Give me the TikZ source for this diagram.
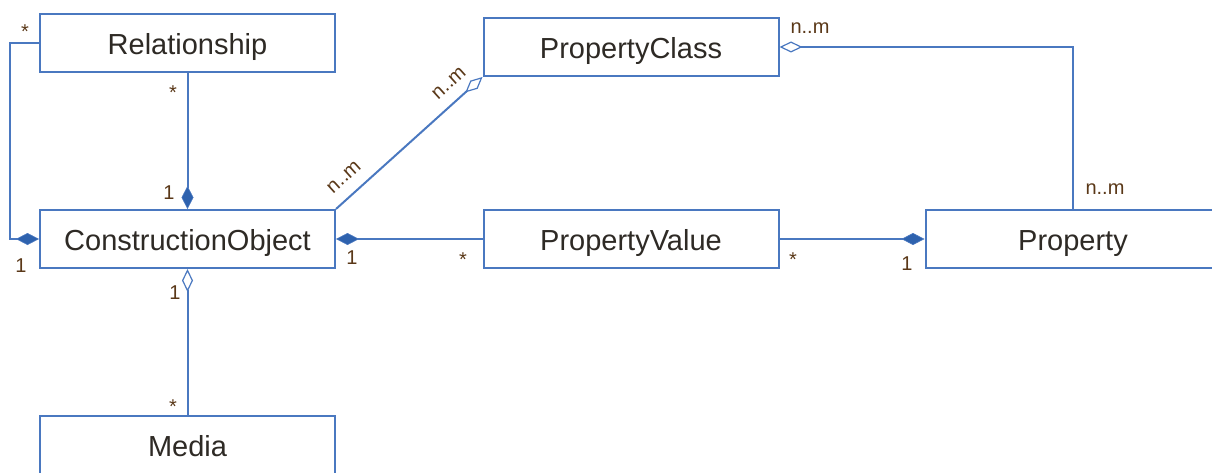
\documentclass[tikz,border=0pt]{standalone}
\usepackage{fontspec}
\setmainfont{Liberation Sans}
\usetikzlibrary{arrows.meta}
\definecolor{umlline}{HTML}{4A78C0}
\definecolor{umlfill}{HTML}{2E62AE}
\definecolor{umltext}{HTML}{2E2A25}
\definecolor{umllabel}{HTML}{5A3818}
\tikzset{
  cls/.style={draw=umlline, line width=2pt, fill=white, minimum width=295pt, minimum height=58pt, inner sep=0pt,
    text height=23pt, text depth=0pt,
    font=\fontsize{29}{34}\selectfont, text=umltext},
  conn/.style={draw=umlline, line width=2pt},
  comp/.style={-{Diamond[length=23pt,width=12pt,fill=umlfill,line width=0.6pt]}},
  aggr/.style={-{Diamond[length=23pt,width=11pt,open,line width=1.2pt]}},
  lbl/.style={font=\fontsize{20}{24}\selectfont, text=umllabel, inner sep=0pt, anchor=base},
  rlbl/.style={font=\fontsize{20}{24}\selectfont, text=umllabel, inner sep=0pt, anchor=center, rotate=42},
}
\begin{document}
\begin{tikzpicture}[x=1pt,y=-1pt]
\useasboundingbox (0,0) rectangle (1212,473);
% classes
\node[cls] (R)  at (187.5,43)  {Relationship};
\node[cls] (CO) at (187.5,239) {ConstructionObject};
\node[cls] (M)  at (187.5,445) {Media};
\node[cls] (PC) at (631,47)    {PropertyClass};
\node[cls] (PV) at (631,239)   {PropertyValue};
\node[cls] (P)  at (1073,239)  {Property};
\coordinate (loopx) at (10,0);
% connectors
\draw[conn,comp] (R.west) -- (R.west -| loopx) |- (CO.west);
\draw[conn,comp] (R.south) -- (CO.north);
\draw[conn,aggr] (CO.north east) -- (PC.south west);
\draw[conn,comp] (PV.west) -- (CO.east);
\draw[conn,comp] (PV.east) -- (P.west);
\draw[conn,aggr] (P.north) -- (P.north |- PC.east) -- (PC.east);
\draw[conn,aggr] (M.north) -- (CO.south);
% multiplicities
\node[lbl] (l1) at (25,38.5) {*};
\node[lbl] (l2) at (21,272) {1};
\node[lbl] (l3) at (173,99.5) {*};
\node[lbl] (l4) at (169,200) {1};
\node[lbl] (l5) at (352,264) {1};
\node[lbl] (l6) at (463,266.5) {*};
\node[lbl] (l7) at (793,266.5) {*};
\node[lbl] (l8) at (907,270) {1};
\node[lbl] (l9) at (810,34) {n..m};
\node[lbl] (l10) at (1105,194) {n..m};
\node[lbl] (l11) at (175,299) {1};
\node[lbl] (l12) at (173,413.5) {*};
\node[rlbl] (l13) at (344,177) {n..m};
\node[rlbl] (l14) at (449,83) {n..m};
\end{tikzpicture}
\end{document}
